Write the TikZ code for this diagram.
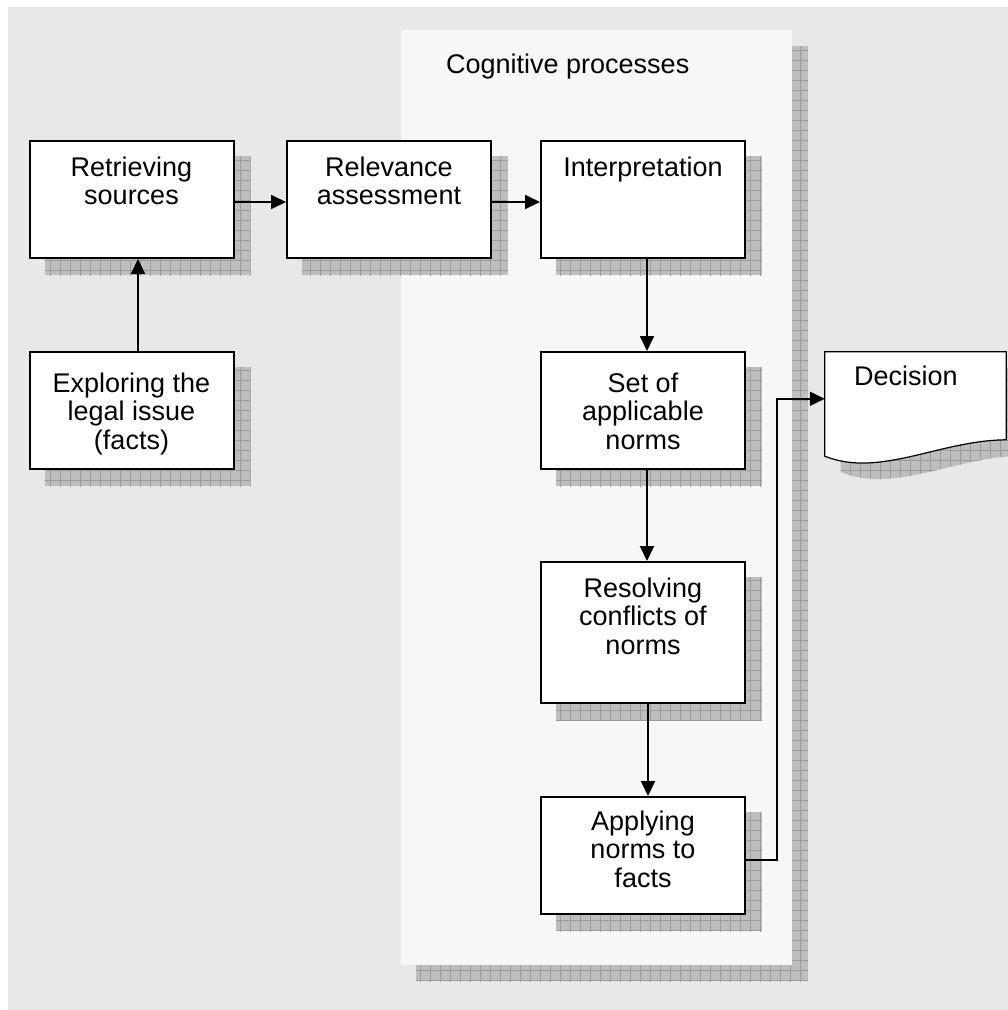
\documentclass[tikz,border=0pt]{standalone}
\usepackage{fontspec}
\setmainfont{Liberation Sans}
\usetikzlibrary{arrows.meta,calc}
\definecolor{bgc}{HTML}{E8E8E8}
\definecolor{panelc}{HTML}{F7F7F7}
\definecolor{shc}{HTML}{BEBEBE}
\definecolor{shl}{HTML}{9C9C9C}
\pgfdeclarelayer{bglayer}
\pgfdeclarelayer{shlayer}
\pgfsetlayers{bglayer,shlayer,main}
\newcommand\gridshadow[1]{%
  \begin{scope}
    \clip #1;
    \fill[shc] #1;
    \draw[shl, line width=0.6pt, step=10pt] (-20,-20) grid (1030,1030);
  \end{scope}}
\begin{document}
\begin{tikzpicture}[x=1pt,y=-1pt,
  box/.style={draw=black, line width=2pt, fill=white, minimum width=204pt, minimum height=117pt, inner sep=0pt},
  lbl/.style={font=\fontsize{27}{28.5}\selectfont, align=center, inner sep=0pt, anchor=north},
  conn/.style={line width=1.8pt, -{Triangle[length=15pt,width=14pt]}},
  plain/.style={line width=1.8pt}]
\useasboundingbox (0,0) rectangle (1008,1010);

% boxes
\node[box] (ret) at (131.5,199.5) {};
\node[box] (rel) at (389,199.5) {};
\node[box] (int) at (643,199.5) {};
\node[box] (exp) at (131.5,410.5) {};
\node[box] (set) at (643,410.5) {};
\node[box, minimum height=141pt] (res) at (643,632.5) {};
\node[box] (app) at (643,855.5) {};
\node[draw=none, minimum width=181pt, minimum height=104pt, inner sep=0pt] (dec) at (915.5,404) {};

\begin{pgfonlayer}{bglayer}
  \fill[bgc] (8,7) rectangle (1008,1010);
  \gridshadow{(416,46) rectangle (808,981)}
  \fill[panelc] (401,30) rectangle (792,965);
\end{pgfonlayer}

\begin{pgfonlayer}{shlayer}
  \foreach \n in {ret,rel,int,exp,set,res,app}{
    \gridshadow{($(\n.south west)+(16,16)$) rectangle ($(\n.north east)+(16,16)$)}
  }
  \gridshadow{($(dec.north west)+(16,16)$) -- ($(dec.north east)+(16,16)$) -- ($(dec.north east)+(16,104)$)
    .. controls ($(dec.south west)+(131,0)$) and ($(dec.south west)+(71,38)$) .. ($(dec.south west)+(16,16)$) -- cycle}
\end{pgfonlayer}

% decision document shape
\draw[line width=1.2pt, fill=white] (dec.north west) -- (dec.north east) -- ($(dec.north east)+(0,88)$)
  .. controls ($(dec.south west)+(115,-16)$) and ($(dec.south west)+(55,22)$) .. (dec.south west) -- cycle;

% labels
\node[lbl, anchor=base west] (cog) at (446,73) {Cognitive processes};
\node[lbl] (tret) at ($(ret.north)+(0,15)$) {\rule{0pt}{21pt}Retrieving\\sources};
\node[lbl] (trel) at ($(rel.north)+(0,15)$) {\rule{0pt}{21pt}Relevance\\assessment};
\node[lbl] (tint) at ($(int.north)+(0,15)$) {\rule{0pt}{21pt}Interpretation};
\node[lbl] (texp) at ($(exp.north)+(0,20)$) {\rule{0pt}{21pt}Exploring the\\legal issue\\(facts)};
\node[lbl] (tset) at ($(set.north)+(0,20)$) {\rule{0pt}{21pt}Set of\\applicable\\norms};
\node[lbl] (tres) at ($(res.north)+(0,15)$) {\rule{0pt}{21pt}Resolving\\conflicts of\\norms};
\node[lbl] (tapp) at ($(app.north)+(0,13)$) {\rule{0pt}{21pt}Applying\\norms to\\facts};
\node[lbl, anchor=base west] (tdec) at (854,385) {Decision};

% connectors
\draw[conn] ($(ret.north east)+(0,62)$) -- ($(rel.north west)+(0,62)$);
\draw[conn] ($(rel.north east)+(0,62)$) -- ($(int.north west)+(0,62)$);
\draw[conn] ($(exp.north)+(6.5,0)$) -- ($(ret.south)+(6.5,0)$);
\draw[conn] ($(int.south)+(4,0)$) -- ($(set.north)+(4,0)$);
\draw[conn] ($(set.south)+(4,0)$) -- ($(res.north)+(4,0)$);
\draw[conn] ($(res.south)+(5,0)$) -- ($(app.north)+(5,0)$);
\coordinate (bendlow) at ($(app.east)+(31,4.5)$);
\draw[conn] ($(app.east)+(0,4.5)$) -- (bendlow) |- ($(dec.north west)+(0,47)$);
\end{tikzpicture}
\end{document}
